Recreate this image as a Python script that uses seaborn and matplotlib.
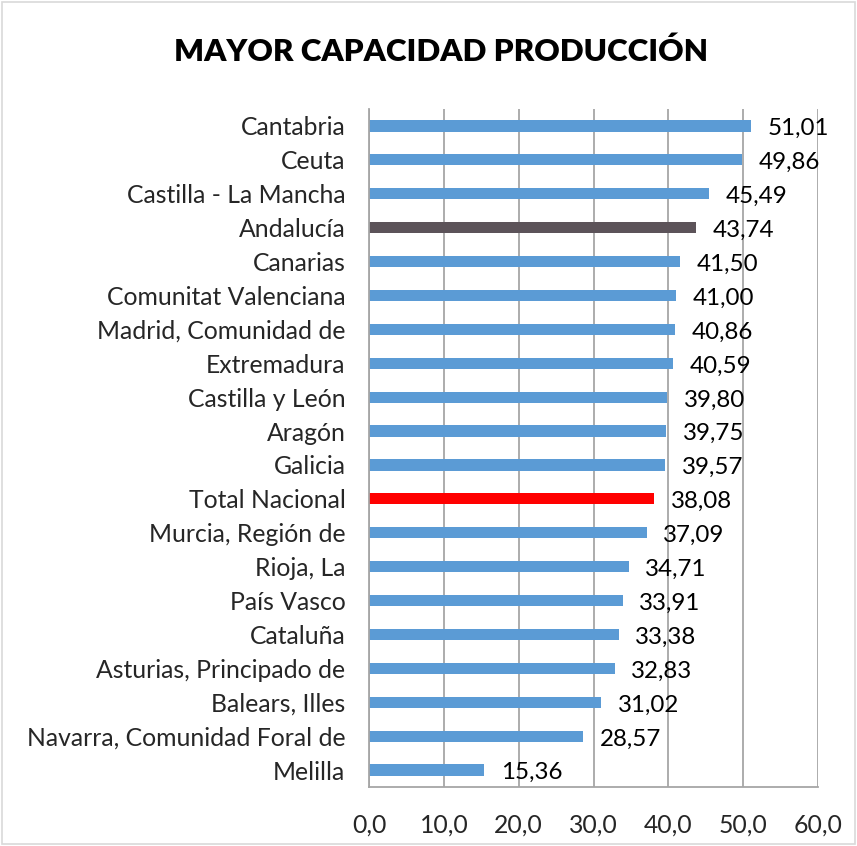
import matplotlib
matplotlib.use("Agg")
import matplotlib.pyplot as plt
import seaborn as sns
import pandas as pd
from matplotlib.patches import Rectangle

categories = ["Cantabria", "Ceuta", "Castilla - La Mancha", "Andalucía", "Canarias",
              "Comunitat Valenciana", "Madrid, Comunidad de", "Extremadura",
              "Castilla y León", "Aragón", "Galicia", "Total Nacional",
              "Murcia, Región de", "Rioja, La", "País Vasco", "Cataluña",
              "Asturias, Principado de", "Balears, Illes",
              "Navarra, Comunidad Foral de", "Melilla"]
values = [51.01, 49.86, 45.49, 43.74, 41.50, 41.00, 40.86, 40.59, 39.80, 39.75,
          39.57, 38.08, 37.09, 34.71, 33.91, 33.38, 32.83, 31.02, 28.57, 15.36]
xticks = [0, 10, 20, 30, 40, 50, 60]
title = "MAYOR CAPACIDAD PRODUCCIÓN"

blue = "#5B9BD5"
colors = {c: blue for c in categories}
colors["Andalucía"] = "#5C5359"
colors["Total Nacional"] = "#FF0000"

sns.set_theme(style="white")
plt.rcParams['font.family'] = ['Lato', 'DejaVu Sans']

df = pd.DataFrame({"cat": categories, "val": values})

fig = plt.figure(figsize=(8.57, 8.46), dpi=100)
ax = fig.add_axes([369/857, 1 - 787/846, (818 - 369)/857, (787 - 109)/846])

sns.barplot(data=df, y="cat", x="val", hue="cat", palette=colors, legend=False,
            orient="h", width=0.33, ax=ax, saturation=1, linewidth=0)

ax.set_xlim(0, 60)
ax.set_xticks(xticks)
ax.set_xticklabels([f"{t:.1f}".replace(".", ",") for t in xticks], fontsize=17.8)
ax.tick_params(axis="x", pad=19, length=0)
ax.tick_params(axis="y", length=0, pad=17, labelsize=17.8)
ax.set_xlabel("")
ax.set_ylabel("")
ax.grid(axis="x", color="#A6A6A6", linewidth=1.3)
ax.set_axisbelow(True)
for s in ["top", "right"]:
    ax.spines[s].set_visible(False)
for s in ["left", "bottom"]:
    ax.spines[s].set_color("#A6A6A6")
    ax.spines[s].set_linewidth(1.3)

for i, v in enumerate(values):
    ax.annotate(f"{v:.2f}".replace(".", ","), xy=(v, i), xytext=(12, -2),
                textcoords="offset points", va="center", ha="left", fontsize=17.4,
                color="black")

fig.text(441/857, 1 - 52/846, title, ha="center", va="center", fontsize=22.6,
         fontweight="heavy", color="black")

fig.patches.append(Rectangle((0.002, 0.002), 0.996, 0.996, transform=fig.transFigure,
                             fill=False, edgecolor="#D9D9D9", linewidth=1.2))

fig.savefig("out.png", dpi=100, facecolor="white")
